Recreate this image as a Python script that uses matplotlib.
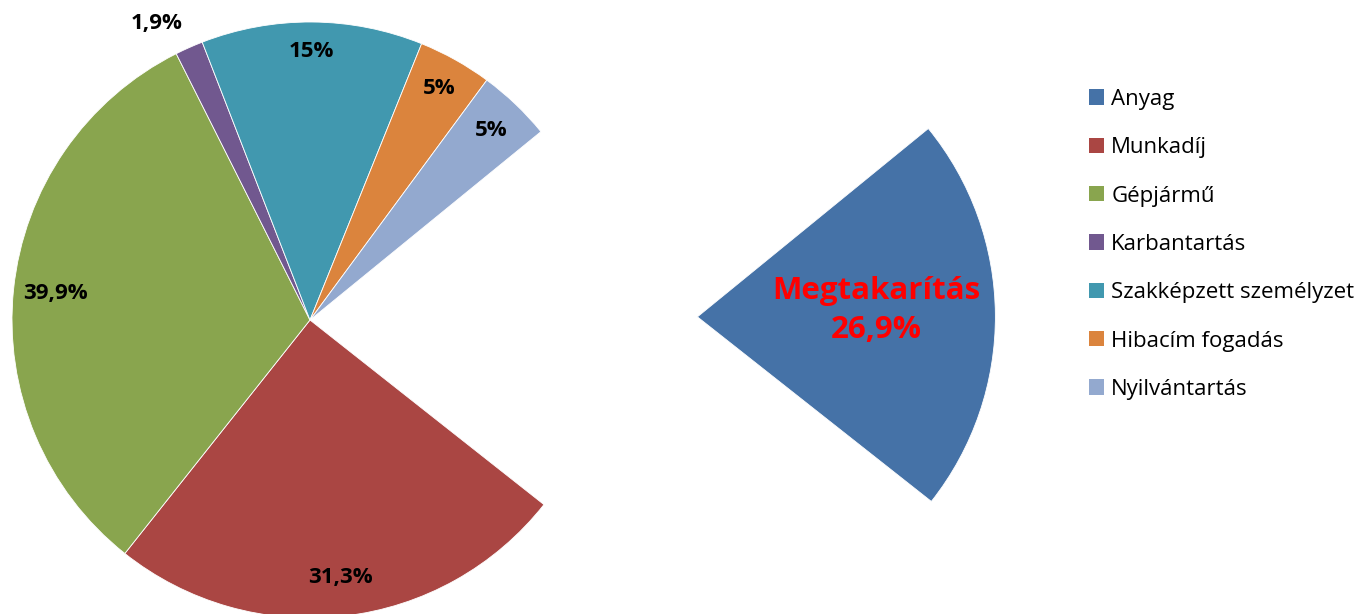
import numpy as np
import matplotlib
matplotlib.use("Agg")
import matplotlib.pyplot as plt
from matplotlib.patches import Patch

categories = ["Anyag", "Munkadíj", "Gépjármű", "Karbantartás",
              "Szakképzett személyzet", "Hibacím fogadás", "Nyilvántartás"]
values = [26.9, 31.3, 39.9, 1.9, 15, 5, 5]
value_labels = ["Megtakarítás\n26,9%", "31,3%", "39,9%", "1,9%", "15%", "5%", "5%"]
colors = ["#4572A7", "#AA4643", "#89A54E", "#71588F", "#4198AF", "#DB843D", "#93A9CF"]

plt.rcParams['font.family'] = ['Open Sans', 'DejaVu Sans']

W, H = 1365, 614
fig = plt.figure(figsize=(W / 100, H / 100), dpi=100)
ax = fig.add_axes([0, 0, 1, 1])

cx, cy, R = 310, H - 320, 298
explode = [1.3 * R, 0, 0, 0, 0, 0, 0]
wedges, _ = ax.pie(values, colors=colors, explode=explode, startangle=39.2,
                   counterclock=False, center=(cx, cy), radius=R,
                   wedgeprops=dict(linewidth=0.6, edgecolor='white'),
                   frame=True)
ax.set_xlim(0, W)
ax.set_ylim(0, H)
ax.set_aspect('equal')
ax.axis('off')

label_dist = [0.6, 0.87, 0.86, 1.12, 0.9, 0.89, 0.88]
label_dang = [0, 0, 0, 3.5, 0, 0, 0]
for i, w in enumerate(wedges):
    ang = np.deg2rad((w.theta1 + w.theta2) / 2 + label_dang[i])
    c = w.center
    x = c[0] + label_dist[i] * R * np.cos(ang)
    y = c[1] + label_dist[i] * R * np.sin(ang)
    if i == 0:
        ax.text(x, y + 5, value_labels[i], ha='center', va='center', color='#FF0000',
                fontsize=22.5, fontweight='bold', linespacing=1.4)
    else:
        ax.text(x, y, value_labels[i], ha='center', va='center', color='black',
                fontsize=16, fontweight='bold')

handles = [Patch(facecolor=c, edgecolor='none') for c in colors]
leg = ax.legend(handles, categories, loc='upper left', bbox_to_anchor=(1080 / W, 1 - 80 / H),
                frameon=False, fontsize=16, labelspacing=1.23, handlelength=0.68,
                handleheight=0.68, handletextpad=0.33, borderaxespad=0)

fig.savefig("out.png", dpi=100)
